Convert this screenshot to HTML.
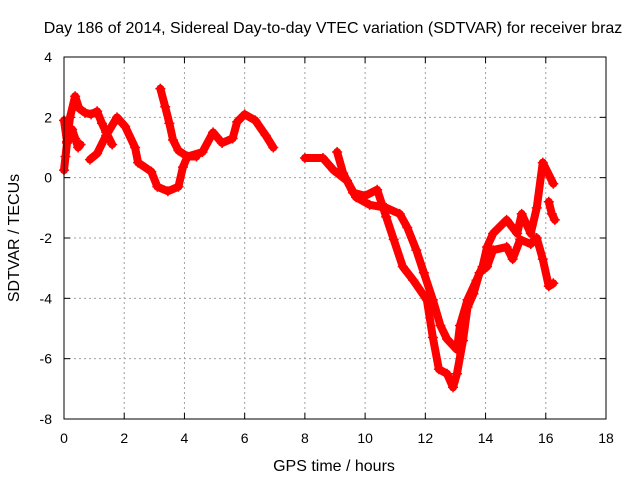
<!DOCTYPE html>
<html><head><meta charset="utf-8"><style>
body{margin:0;background:#fff}
svg text{font-family:"Liberation Sans",sans-serif;font-size:14px;fill:#000}
svg text.big{font-size:16px}
</style></head><body>
<svg id="c" width="640" height="480">
<text class="big" x="333" y="33" text-anchor="middle">Day 186 of 2014, Sidereal Day-to-day VTEC variation (SDTVAR) for receiver braz</text>
<text class="big" x="334" y="471" text-anchor="middle">GPS time / hours</text>
<text class="big" transform="translate(19,238) rotate(-90)" text-anchor="middle">SDTVAR / TECUs</text>
<g id="grid"></g><g id="ticks"></g><g id="series"></g>
<rect x="64" y="57" width="542" height="362" fill="none" stroke="#000" stroke-width="1"/>
</svg>
<script>
const xTicks=[0,2,4,6,8,10,12,14,16,18];
const yTicks=[4,2,0,-2,-4,-6,-8];
const s1h=[0,0.1,0.2,0.37,0.5,0.7,0.9,1.1,1.26,1.4,1.6];
const s1v=[1.9,1.2,2.0,2.7,2.3,2.15,2.1,2.2,1.8,1.5,1.1];
const s2h=[0,0.05,0.1,0.27,0.37,0.47,0.55];
const s2v=[0.25,0.7,1.15,1.6,1.3,1.0,1.1];
const s3h=[0.86,1.1,1.4,1.76,2.03,2.36,2.46,2.9,3.1,3.45,3.8,3.95,4.1,4.6,4.95,5.25,5.6,5.75,6.0,6.35,6.7,6.95];
const s3v=[0.6,0.8,1.4,2.0,1.7,1.0,0.5,0.2,-0.3,-0.45,-0.3,0.35,0.7,0.85,1.5,1.15,1.3,1.85,2.1,1.9,1.4,1.0];
const s4h=[3.2,3.36,3.5,3.62,3.8,4.1,4.4];
const s4v=[2.95,2.35,1.8,1.25,0.9,0.7,0.7];
const s5h=[8.0,8.6,8.95,9.4,9.7,10.15,10.7,11.15,11.4,11.7,11.95,12.25,12.5,12.72,13.05,13.15,13.4,13.7,13.9,14.05,14.25,14.7,15.05,15.2,15.5,15.7,15.9,16.25];
const s5v=[0.65,0.65,0.25,-0.1,-0.65,-0.9,-1.0,-1.2,-1.65,-2.4,-3.15,-4.05,-4.9,-5.35,-5.7,-4.9,-4.05,-3.4,-2.95,-2.3,-1.85,-1.4,-1.85,-1.2,-1.85,-1.0,0.5,-0.2];
const s6h=[9.07,9.27,9.6,10.0,10.4,10.7,10.95,11.25,11.6,12.05,12.25,12.45,12.72,12.92,13.05,13.25,13.4,13.6,13.8,14.05,14.25,14.7,14.9,15.15,15.5,15.7,15.9,16.1,16.25];
const s6v=[0.85,0.15,-0.5,-0.6,-0.4,-1.3,-2.05,-2.95,-3.4,-4.05,-5.3,-6.35,-6.5,-6.95,-6.5,-5.4,-4.3,-3.85,-3.15,-2.95,-2.4,-2.3,-2.7,-2.05,-2.2,-2.0,-2.7,-3.6,-3.5];
const s7h=[16.1,16.2,16.3];
const s7v=[-0.8,-1.2,-1.4];
const X=h=>64+h*(542/18), Y=v=>57+(4-v)*(362/12);
const NS='http://www.w3.org/2000/svg';
const g=document.getElementById('grid'),t=document.getElementById('ticks'),se=document.getElementById('series');
function mk(tag,a,p){const e=document.createElementNS(NS,tag);for(const k in a)e.setAttribute(k,a[k]);p.appendChild(e);return e;}
xTicks.forEach(v=>{const x=X(v);
 if(v>0&&v<18){const l=mk('line',{x1:x,y1:57,x2:x,y2:419,stroke:'#a0a0a0','stroke-dasharray':'2,3'},g);
 
 }
 const tx=mk('text',{x:x,y:443,'text-anchor':'middle'},t);tx.textContent=v;
 
 
 mk('line',{x1:x,y1:419,x2:x,y2:413,stroke:'#000'},t);mk('line',{x1:x,y1:57,x2:x,y2:63,stroke:'#000'},t);});
yTicks.forEach(v=>{const y=Y(v);
 if(v<4&&v>-8){const l=mk('line',{x1:64,y1:y,x2:606,y2:y,stroke:'#a0a0a0','stroke-dasharray':'2,3'},g);
 
 }
 const tx=mk('text',{x:52,y:y+5,'text-anchor':'end'},t);tx.textContent=v;
 
 
 mk('line',{x1:64,y1:y,x2:70,y2:y,stroke:'#000'},t);mk('line',{x1:606,y1:y,x2:600,y2:y,stroke:'#000'},t);});
[[s1h,s1v],[s2h,s2v],[s3h,s3v],[s4h,s4v],[s5h,s5v],[s6h,s6v],[s7h,s7v]].forEach(([hs,vs],i)=>{
 const pts=hs.map((h,j)=>X(h)+','+Y(vs[j])).join(' ');
 const pl=mk('polyline',{points:pts,fill:'none',stroke:'#f00','stroke-width':8,'stroke-linejoin':'round','stroke-linecap':'round'},se);
 
 
 hs.forEach((h,j)=>{const x=X(h),y=Y(vs[j]);
  const p=mk('path',{d:`M${x-5},${y}H${x+5}M${x},${y-5}V${y+5}`,stroke:'#f00','stroke-width':1.5},se);
  
  });
});
</script>
</body></html>
